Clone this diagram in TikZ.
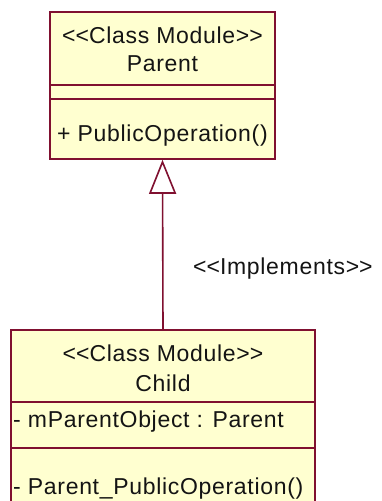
\documentclass[tikz,border=0pt]{standalone}
\usepackage{fontspec}
\setmainfont{Liberation Sans}[LetterSpace=3]
\usetikzlibrary{arrows.meta}
\definecolor{umlline}{RGB}{128,16,48}
\definecolor{umlfill}{RGB}{255,255,208}
\definecolor{umltext}{RGB}{20,20,20}
\newcommand\umllt{<\kern0pt<\kern0pt}
\newcommand\umlgt{>\kern0pt>}
\begin{document}
\begin{tikzpicture}[x=1pt,y=-1pt,
  classbox/.style={draw=umlline, fill=umlfill, line width=1.6pt, inner sep=0pt, rectangle},
  divider/.style={draw=umlline, line width=1.6pt},
  umltxt/.style={font=\fontsize{23}{26}\selectfont, text=umltext, inner sep=0pt},
  realize/.style={draw=umlline, line width=1.6pt, -{Triangle[open, length=34pt, width=27pt, fill=white]}}
]
\useasboundingbox (0,0) rectangle (382,501);
\clip (0,0) rectangle (382,501);
% Parent class
\node[classbox, minimum width=225pt, minimum height=147pt] (parent) at (162.5,85.5) {};
\draw[divider] (parent.west |- 0,85) coordinate (pd1l) -- (parent.east |- 0,85) coordinate (pd1r);
\draw[divider] (parent.west |- 0,99) coordinate (pd2l) -- (parent.east |- 0,99) coordinate (pd2r);
\node[umltxt] (pst) at (162.5,35) {\umllt Class Module\umlgt};
\node[umltxt] (pname) at (162.5,64) {Parent};
\node[umltxt, anchor=west] (pop) at (57,136) {+ PublicOperation()};
% Child class
\node[classbox, minimum width=304pt, minimum height=200pt] (child) at (163,430) {};
\draw[divider] (child.west |- 0,402) coordinate (cd1l) -- (child.east |- 0,402) coordinate (cd1r);
\draw[divider] (child.west |- 0,448) coordinate (cd2l) -- (child.east |- 0,448) coordinate (cd2r);
\node[umltxt] (cst) at (163,353) {\umllt Class Module\umlgt};
\node[umltxt] (cname) at (163,383) {Child};
\node[umltxt, anchor=west] (cattr) at (13,422) {- mParentObject : Parent};
\node[umltxt, anchor=west] (cop) at (13,489) {- Parent\_PublicOperation()};
% Realization
\draw[realize] (child.north) -- (parent.south);
\node[umltxt, anchor=west] (impl) at (193,269) {\umllt Implements\umlgt};
\end{tikzpicture}
\end{document}
